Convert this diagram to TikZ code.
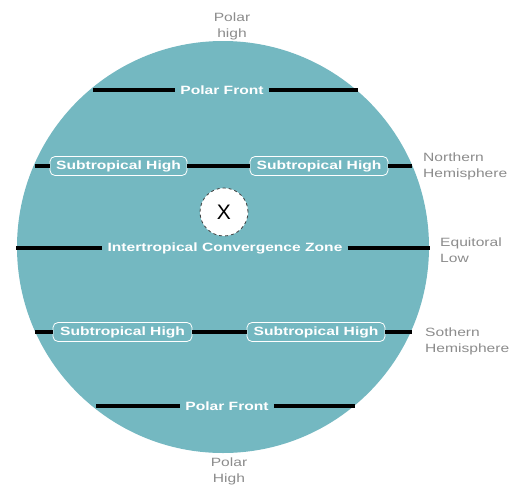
\documentclass[tikz,border=0pt]{standalone}
\usepackage{fontspec}
\setmainfont{Liberation Sans}
\usepackage{graphicx}
\definecolor{sea}{RGB}{116,184,193}
\definecolor{lab}{RGB}{140,140,140}
\newcommand\wide[1]{\scalebox{1.3}[1]{#1}}
\tikzset{
  front/.style={line width=3.2pt, black},
  wtext/.style={text=white, font=\bfseries\fontsize{12}{12}\selectfont, inner sep=0pt},
  gapped/.style={wtext, inner xsep=5pt},
  boxed/.style={wtext, draw=white, line width=0.8pt, rounded corners=5pt, minimum height=19pt},
  side/.style={text=lab, font=\fontsize{12}{16}\selectfont, align=left, anchor=north west, inner sep=0pt},
  topl/.style={text=lab, font=\fontsize{12}{16}\selectfont, align=center, inner sep=0pt},
}
\begin{document}
\begin{tikzpicture}[x=1pt,y=-1pt]
\useasboundingbox (0,0) rectangle (525,488);
\fill[white] (0,0) rectangle (525,488);
\node[circle, fill=sea, minimum size=412pt, inner sep=0pt] (globe) at (223,247) {};
% Polar front top
\node[gapped] (pft) at (222,90) {\wide{Polar Front}};
\coordinate (pftl) at (93,90);
\coordinate (pftr) at (358,90);
\draw[front] (pftl) -- (pft.west);
\draw[front] (pft.east) -- (pftr);
% Northern subtropical highs
\node[boxed, minimum width=137pt] (nsl) at (118.5,166) {\wide{Subtropical High}};
\node[boxed, minimum width=138pt] (nsr) at (319,166) {\wide{Subtropical High}};
\coordinate (nl) at (35,166);
\coordinate (nr) at (412,166);
\draw[front] (nl) -- (nsl.west);
\draw[front] (nsl.east) -- (nsr.west);
\draw[front] (nsr.east) -- (nr);
% X marker
\node[circle, fill=white, draw=black!75, dashed, line width=0.8pt, minimum size=48pt, inner sep=0pt, font=\fontsize{21}{21}\selectfont] (xm) at (224,212) {X};
% ITCZ
\node[gapped] (itcz) at (225,248) {\wide{Intertropical Convergence Zone}};
\coordinate (il) at (16,248);
\coordinate (ir) at (430,248);
\draw[front] (il) -- (itcz.west);
\draw[front] (itcz.east) -- (ir);
% Southern subtropical highs
\node[boxed, minimum width=139pt] (ssl) at (122.5,332) {\wide{Subtropical High}};
\node[boxed, minimum width=138pt] (ssr) at (316,332) {\wide{Subtropical High}};
\coordinate (sl) at (35,332);
\coordinate (sr) at (412,332);
\draw[front] (sl) -- (ssl.west);
\draw[front] (ssl.east) -- (ssr.west);
\draw[front] (ssr.east) -- (sr);
% Polar front bottom
\node[gapped] (pfb) at (227,406) {\wide{Polar Front}};
\coordinate (pfbl) at (96,406);
\coordinate (pfbr) at (355,406);
\draw[front] (pfbl) -- (pfb.west);
\draw[front] (pfb.east) -- (pfbr);
% outside labels
\node[topl] (ph) at (232,26) {\wide{Polar}\\\wide{high}};
\node[topl] (pH) at (229,471) {\wide{Polar}\\\wide{High}};
\node[side] (nh) at (423,153) {\wide{Northern}\\\wide{Hemisphere}};
\node[side] (el) at (440,238) {\wide{Equitoral}\\\wide{Low}};
\node[side] (sh) at (425,328) {\wide{Sothern}\\\wide{Hemisphere}};
\end{tikzpicture}
\end{document}
